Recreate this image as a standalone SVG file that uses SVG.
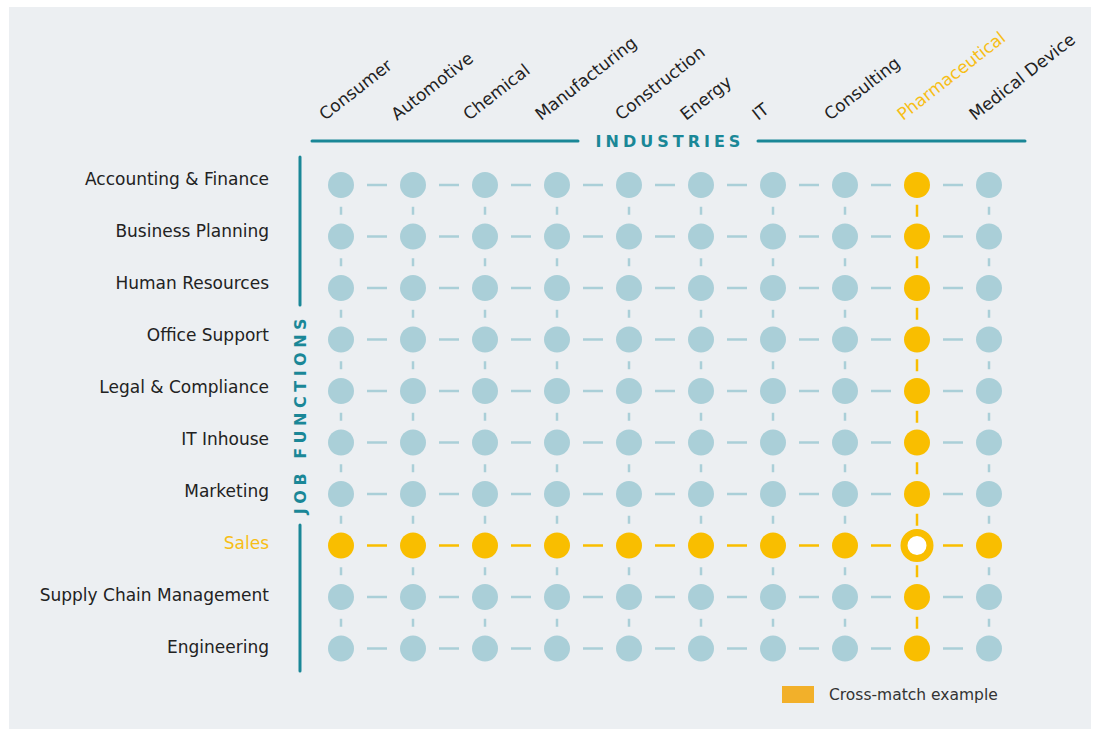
<svg xmlns="http://www.w3.org/2000/svg" width="1099" height="731" viewBox="0 0 1099 731">
<style>
.lbl{font-family:"DejaVu Sans",sans-serif;font-size:17px;fill:#222}
.top{font-family:"DejaVu Sans",sans-serif;font-size:17px;fill:#222}
.hl{fill:#F7BE16}
.axis{font-family:"DejaVu Sans",sans-serif;font-weight:bold;font-size:16px;fill:#1A8797}
.n{fill:#AACFD8}
.y{fill:#F9BE00}
.dt{stroke:#AACFD8;stroke-width:2.5;fill:none}
.dy{stroke:#F9BE00;stroke-width:2.5;fill:none}
.ax{stroke:#1A8797;stroke-width:3;fill:none;stroke-linecap:round}
</style>
<rect x="0" y="0" width="1099" height="731" fill="#ffffff"/>
<rect x="9" y="7" width="1082" height="722" fill="#ECEFF2"/>

<g id="axes">
<path class="ax" d="M312 141H578M758 141H1025"/>
<text class="axis" x="670" y="147" text-anchor="middle" letter-spacing="4">INDUSTRIES</text>
<path class="ax" d="M300 157V305M300 525V671"/>
<text class="axis" transform="translate(306,414) rotate(-90)" text-anchor="middle" letter-spacing="4.5">JOB FUNCTIONS</text>
</g>

<g id="industry-labels">
<text class="top" transform="translate(325,121) rotate(-38)">Consumer</text>
<text class="top" transform="translate(397,121) rotate(-38)">Automotive</text>
<text class="top" transform="translate(469,121) rotate(-38)">Chemical</text>
<text class="top" transform="translate(541,121) rotate(-38)">Manufacturing</text>
<text class="top" transform="translate(621,121) rotate(-38)">Construction</text>
<text class="top" transform="translate(686,121) rotate(-38)">Energy</text>
<text class="top" transform="translate(758,121) rotate(-38)">IT</text>
<text class="top" transform="translate(830,121) rotate(-38)">Consulting</text>
<text class="top hl" transform="translate(903,121) rotate(-38)">Pharmaceutical</text>
<text class="top" transform="translate(975,121) rotate(-38)">Medical Device</text>
</g>

<g id="function-labels">
<text class="lbl" x="269" y="185" text-anchor="end">Accounting &amp; Finance</text>
<text class="lbl" x="269" y="237" text-anchor="end">Business Planning</text>
<text class="lbl" x="269" y="289" text-anchor="end">Human Resources</text>
<text class="lbl" x="269" y="341" text-anchor="end">Office Support</text>
<text class="lbl" x="269" y="393" text-anchor="end">Legal &amp; Compliance</text>
<text class="lbl" x="269" y="445" text-anchor="end">IT Inhouse</text>
<text class="lbl" x="269" y="497" text-anchor="end">Marketing</text>
<text class="lbl hl" x="269" y="549" text-anchor="end">Sales</text>
<text class="lbl" x="269" y="601" text-anchor="end">Supply Chain Management</text>
<text class="lbl" x="269" y="653" text-anchor="end">Engineering</text>
</g>

<g id="connectors">
<path class="dt" d="M367 185h20M439 185h20M511 185h20M583 185h20M655 185h20M727 185h20M799 185h20M871 185h20M943 185h20"/>
<path class="dt" d="M367 236.5h20M439 236.5h20M511 236.5h20M583 236.5h20M655 236.5h20M727 236.5h20M799 236.5h20M871 236.5h20M943 236.5h20"/>
<path class="dt" d="M367 288h20M439 288h20M511 288h20M583 288h20M655 288h20M727 288h20M799 288h20M871 288h20M943 288h20"/>
<path class="dt" d="M367 339.5h20M439 339.5h20M511 339.5h20M583 339.5h20M655 339.5h20M727 339.5h20M799 339.5h20M871 339.5h20M943 339.5h20"/>
<path class="dt" d="M367 391h20M439 391h20M511 391h20M583 391h20M655 391h20M727 391h20M799 391h20M871 391h20M943 391h20"/>
<path class="dt" d="M367 442.5h20M439 442.5h20M511 442.5h20M583 442.5h20M655 442.5h20M727 442.5h20M799 442.5h20M871 442.5h20M943 442.5h20"/>
<path class="dt" d="M367 494h20M439 494h20M511 494h20M583 494h20M655 494h20M727 494h20M799 494h20M871 494h20M943 494h20"/>
<path class="dy" d="M367 545.5h20M439 545.5h20M511 545.5h20M583 545.5h20M655 545.5h20M727 545.5h20M799 545.5h20M871 545.5h20M943 545.5h20"/>
<path class="dt" d="M367 597h20M439 597h20M511 597h20M583 597h20M655 597h20M727 597h20M799 597h20M871 597h20M943 597h20"/>
<path class="dt" d="M367 648.5h20M439 648.5h20M511 648.5h20M583 648.5h20M655 648.5h20M727 648.5h20M799 648.5h20M871 648.5h20M943 648.5h20"/>
<path class="dt" d="M341 206.75v8M341 258.25v8M341 309.75v8M341 361.25v8M341 412.75v8M341 464.25v8M341 515.75v8M341 567.25v8M341 618.75v8"/>
<path class="dt" d="M413 206.75v8M413 258.25v8M413 309.75v8M413 361.25v8M413 412.75v8M413 464.25v8M413 515.75v8M413 567.25v8M413 618.75v8"/>
<path class="dt" d="M485 206.75v8M485 258.25v8M485 309.75v8M485 361.25v8M485 412.75v8M485 464.25v8M485 515.75v8M485 567.25v8M485 618.75v8"/>
<path class="dt" d="M557 206.75v8M557 258.25v8M557 309.75v8M557 361.25v8M557 412.75v8M557 464.25v8M557 515.75v8M557 567.25v8M557 618.75v8"/>
<path class="dt" d="M629 206.75v8M629 258.25v8M629 309.75v8M629 361.25v8M629 412.75v8M629 464.25v8M629 515.75v8M629 567.25v8M629 618.75v8"/>
<path class="dt" d="M701 206.75v8M701 258.25v8M701 309.75v8M701 361.25v8M701 412.75v8M701 464.25v8M701 515.75v8M701 567.25v8M701 618.75v8"/>
<path class="dt" d="M773 206.75v8M773 258.25v8M773 309.75v8M773 361.25v8M773 412.75v8M773 464.25v8M773 515.75v8M773 567.25v8M773 618.75v8"/>
<path class="dt" d="M845 206.75v8M845 258.25v8M845 309.75v8M845 361.25v8M845 412.75v8M845 464.25v8M845 515.75v8M845 567.25v8M845 618.75v8"/>
<path class="dy" d="M917 204.75v12M917 256.25v12M917 307.75v12M917 359.25v12M917 410.75v12M917 462.25v12M917 513.75v12M917 565.25v12M917 616.75v12"/>
<path class="dt" d="M989 206.75v8M989 258.25v8M989 309.75v8M989 361.25v8M989 412.75v8M989 464.25v8M989 515.75v8M989 567.25v8M989 618.75v8"/>
</g>

<g id="nodes">
<g id="r0c0"><circle class="n" cx="341" cy="185" r="13"/></g><g id="r0c1"><circle class="n" cx="413" cy="185" r="13"/></g><g id="r0c2"><circle class="n" cx="485" cy="185" r="13"/></g><g id="r0c3"><circle class="n" cx="557" cy="185" r="13"/></g><g id="r0c4"><circle class="n" cx="629" cy="185" r="13"/></g><g id="r0c5"><circle class="n" cx="701" cy="185" r="13"/></g><g id="r0c6"><circle class="n" cx="773" cy="185" r="13"/></g><g id="r0c7"><circle class="n" cx="845" cy="185" r="13"/></g><g id="r0c8"><circle class="y" cx="917" cy="185" r="13"/></g><g id="r0c9"><circle class="n" cx="989" cy="185" r="13"/></g>
<g id="r1c0"><circle class="n" cx="341" cy="236.5" r="13"/></g><g id="r1c1"><circle class="n" cx="413" cy="236.5" r="13"/></g><g id="r1c2"><circle class="n" cx="485" cy="236.5" r="13"/></g><g id="r1c3"><circle class="n" cx="557" cy="236.5" r="13"/></g><g id="r1c4"><circle class="n" cx="629" cy="236.5" r="13"/></g><g id="r1c5"><circle class="n" cx="701" cy="236.5" r="13"/></g><g id="r1c6"><circle class="n" cx="773" cy="236.5" r="13"/></g><g id="r1c7"><circle class="n" cx="845" cy="236.5" r="13"/></g><g id="r1c8"><circle class="y" cx="917" cy="236.5" r="13"/></g><g id="r1c9"><circle class="n" cx="989" cy="236.5" r="13"/></g>
<g id="r2c0"><circle class="n" cx="341" cy="288" r="13"/></g><g id="r2c1"><circle class="n" cx="413" cy="288" r="13"/></g><g id="r2c2"><circle class="n" cx="485" cy="288" r="13"/></g><g id="r2c3"><circle class="n" cx="557" cy="288" r="13"/></g><g id="r2c4"><circle class="n" cx="629" cy="288" r="13"/></g><g id="r2c5"><circle class="n" cx="701" cy="288" r="13"/></g><g id="r2c6"><circle class="n" cx="773" cy="288" r="13"/></g><g id="r2c7"><circle class="n" cx="845" cy="288" r="13"/></g><g id="r2c8"><circle class="y" cx="917" cy="288" r="13"/></g><g id="r2c9"><circle class="n" cx="989" cy="288" r="13"/></g>
<g id="r3c0"><circle class="n" cx="341" cy="339.5" r="13"/></g><g id="r3c1"><circle class="n" cx="413" cy="339.5" r="13"/></g><g id="r3c2"><circle class="n" cx="485" cy="339.5" r="13"/></g><g id="r3c3"><circle class="n" cx="557" cy="339.5" r="13"/></g><g id="r3c4"><circle class="n" cx="629" cy="339.5" r="13"/></g><g id="r3c5"><circle class="n" cx="701" cy="339.5" r="13"/></g><g id="r3c6"><circle class="n" cx="773" cy="339.5" r="13"/></g><g id="r3c7"><circle class="n" cx="845" cy="339.5" r="13"/></g><g id="r3c8"><circle class="y" cx="917" cy="339.5" r="13"/></g><g id="r3c9"><circle class="n" cx="989" cy="339.5" r="13"/></g>
<g id="r4c0"><circle class="n" cx="341" cy="391" r="13"/></g><g id="r4c1"><circle class="n" cx="413" cy="391" r="13"/></g><g id="r4c2"><circle class="n" cx="485" cy="391" r="13"/></g><g id="r4c3"><circle class="n" cx="557" cy="391" r="13"/></g><g id="r4c4"><circle class="n" cx="629" cy="391" r="13"/></g><g id="r4c5"><circle class="n" cx="701" cy="391" r="13"/></g><g id="r4c6"><circle class="n" cx="773" cy="391" r="13"/></g><g id="r4c7"><circle class="n" cx="845" cy="391" r="13"/></g><g id="r4c8"><circle class="y" cx="917" cy="391" r="13"/></g><g id="r4c9"><circle class="n" cx="989" cy="391" r="13"/></g>
<g id="r5c0"><circle class="n" cx="341" cy="442.5" r="13"/></g><g id="r5c1"><circle class="n" cx="413" cy="442.5" r="13"/></g><g id="r5c2"><circle class="n" cx="485" cy="442.5" r="13"/></g><g id="r5c3"><circle class="n" cx="557" cy="442.5" r="13"/></g><g id="r5c4"><circle class="n" cx="629" cy="442.5" r="13"/></g><g id="r5c5"><circle class="n" cx="701" cy="442.5" r="13"/></g><g id="r5c6"><circle class="n" cx="773" cy="442.5" r="13"/></g><g id="r5c7"><circle class="n" cx="845" cy="442.5" r="13"/></g><g id="r5c8"><circle class="y" cx="917" cy="442.5" r="13"/></g><g id="r5c9"><circle class="n" cx="989" cy="442.5" r="13"/></g>
<g id="r6c0"><circle class="n" cx="341" cy="494" r="13"/></g><g id="r6c1"><circle class="n" cx="413" cy="494" r="13"/></g><g id="r6c2"><circle class="n" cx="485" cy="494" r="13"/></g><g id="r6c3"><circle class="n" cx="557" cy="494" r="13"/></g><g id="r6c4"><circle class="n" cx="629" cy="494" r="13"/></g><g id="r6c5"><circle class="n" cx="701" cy="494" r="13"/></g><g id="r6c6"><circle class="n" cx="773" cy="494" r="13"/></g><g id="r6c7"><circle class="n" cx="845" cy="494" r="13"/></g><g id="r6c8"><circle class="y" cx="917" cy="494" r="13"/></g><g id="r6c9"><circle class="n" cx="989" cy="494" r="13"/></g>
<g id="r7c0"><circle class="y" cx="341" cy="545.5" r="13"/></g><g id="r7c1"><circle class="y" cx="413" cy="545.5" r="13"/></g><g id="r7c2"><circle class="y" cx="485" cy="545.5" r="13"/></g><g id="r7c3"><circle class="y" cx="557" cy="545.5" r="13"/></g><g id="r7c4"><circle class="y" cx="629" cy="545.5" r="13"/></g><g id="r7c5"><circle class="y" cx="701" cy="545.5" r="13"/></g><g id="r7c6"><circle class="y" cx="773" cy="545.5" r="13"/></g><g id="r7c7"><circle class="y" cx="845" cy="545.5" r="13"/></g><g id="r7c8"><circle cx="917" cy="545.5" r="13" fill="#FFFFFF" stroke="#F9BE00" stroke-width="7"/></g><g id="r7c9"><circle class="y" cx="989" cy="545.5" r="13"/></g>
<g id="r8c0"><circle class="n" cx="341" cy="597" r="13"/></g><g id="r8c1"><circle class="n" cx="413" cy="597" r="13"/></g><g id="r8c2"><circle class="n" cx="485" cy="597" r="13"/></g><g id="r8c3"><circle class="n" cx="557" cy="597" r="13"/></g><g id="r8c4"><circle class="n" cx="629" cy="597" r="13"/></g><g id="r8c5"><circle class="n" cx="701" cy="597" r="13"/></g><g id="r8c6"><circle class="n" cx="773" cy="597" r="13"/></g><g id="r8c7"><circle class="n" cx="845" cy="597" r="13"/></g><g id="r8c8"><circle class="y" cx="917" cy="597" r="13"/></g><g id="r8c9"><circle class="n" cx="989" cy="597" r="13"/></g>
<g id="r9c0"><circle class="n" cx="341" cy="648.5" r="13"/></g><g id="r9c1"><circle class="n" cx="413" cy="648.5" r="13"/></g><g id="r9c2"><circle class="n" cx="485" cy="648.5" r="13"/></g><g id="r9c3"><circle class="n" cx="557" cy="648.5" r="13"/></g><g id="r9c4"><circle class="n" cx="629" cy="648.5" r="13"/></g><g id="r9c5"><circle class="n" cx="701" cy="648.5" r="13"/></g><g id="r9c6"><circle class="n" cx="773" cy="648.5" r="13"/></g><g id="r9c7"><circle class="n" cx="845" cy="648.5" r="13"/></g><g id="r9c8"><circle class="y" cx="917" cy="648.5" r="13"/></g><g id="r9c9"><circle class="n" cx="989" cy="648.5" r="13"/></g>
</g>

<g id="legend">
<rect x="782" y="686" width="32" height="17" fill="#F2B02A"/>
<text x="829" y="700" font-family="DejaVu Sans, sans-serif" font-size="15.5" fill="#333">Cross-match example</text>
</g>
</svg>
